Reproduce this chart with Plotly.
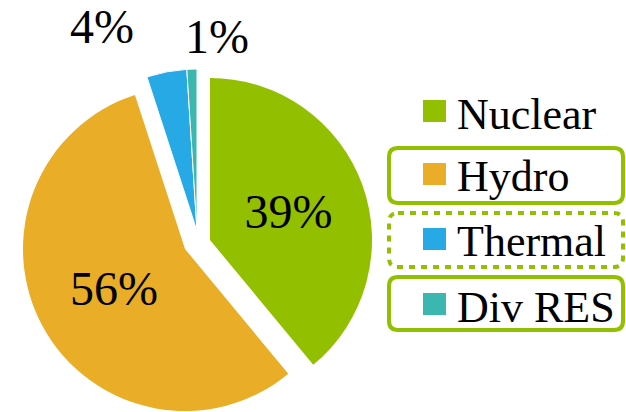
import plotly.graph_objects as go

# --- data -------------------------------------------------------------
categories = ["Nuclear", "Hydro", "Thermal", "Div RES"]
shares = [39, 56, 4, 1]
colors = ["#92BF00", "#E9AD27", "#27A9E6", "#3CB7B0"]

# --- layout helpers (pixel geometry of the 626x412 canvas) -------------
W, H = 626, 412
R = 162
FONT = "Liberation Serif, Times New Roman, serif"
FRAME = "#92BF00"
CLEAR = "rgba(0,0,0,0)"

# exploded pie: each group of slices is drawn around its own centre
groups = [
    {"members": [0], "centre": (210, 240), "inside": True},
    {"members": [1], "centre": (185, 249), "inside": True},
    {"members": [2, 3], "centre": (197, 231), "inside": False},
]
# outside percentage labels (centre of text, px)
outside_label_pos = {2: (102, 27), 3: (217, 37)}


def px_x(x):
    return x / W


def px_y(y):
    return 1 - y / H


total = sum(shares)
fig = go.Figure()

for g in groups:
    cx, cy = g["centre"]
    members = g["members"]
    slice_colors = [colors[i] if i in members else CLEAR for i in range(len(shares))]
    line_w = [1 if (i in members and len(members) > 1) else 0 for i in range(len(shares))]
    templates = [
        "%{percent:.0%}" if (i in members and g["inside"]) else ""
        for i in range(len(shares))
    ]
    fig.add_trace(go.Pie(
        labels=categories,
        values=shares,
        sort=False,
        direction="clockwise",
        rotation=0,
        marker=dict(colors=slice_colors, line=dict(color="white", width=line_w)),
        texttemplate=templates,
        textposition="inside",
        insidetextorientation="horizontal",
        insidetextfont=dict(family=FONT, size=48, color="black"),
        domain=dict(
            x=[px_x(cx - R), px_x(cx + R)],
            y=[px_y(cy + R), px_y(cy - R)],
        ),
        showlegend=False,
        hoverinfo="label+percent",
    ))

annotations = []
for i, (lx, ly) in outside_label_pos.items():
    annotations.append(dict(
        x=px_x(lx), y=px_y(ly), xref="paper", yref="paper",
        text=f"{shares[i] / total * 100:.0f}%",
        showarrow=False, xanchor="center", yanchor="middle",
        font=dict(family=FONT, size=48, color="black"),
    ))

# --- hand-built legend with framed entries ------------------------------
legend_rows = [111, 174, 239, 304]        # centre of each marker square (px)
legend_frames = [None, "solid", "6px,6px", "solid"]
frame_boxes = [None, (148, 203), (213, 267), (277, 330)]
shapes = []
for i, name in enumerate(categories):
    yc = legend_rows[i]
    shapes.append(dict(
        type="rect", xref="paper", yref="paper",
        x0=px_x(423), x1=px_x(446), y0=px_y(yc + 11), y1=px_y(yc - 11),
        fillcolor=colors[i], line=dict(width=0),
    ))
    annotations.append(dict(
        x=px_x(455), y=px_y(yc + 3), xref="paper", yref="paper",
        text=name, showarrow=False, xanchor="left", yanchor="middle",
        font=dict(family=FONT, size=44, color="black"),
    ))
    if legend_frames[i]:
        top, bot = frame_boxes[i]
        x0, x1, rr = 389, 623, 9
        path = (
            f"M {px_x(x0 + rr)},{px_y(top)} L {px_x(x1 - rr)},{px_y(top)} "
            f"Q {px_x(x1)},{px_y(top)} {px_x(x1)},{px_y(top + rr)} "
            f"L {px_x(x1)},{px_y(bot - rr)} "
            f"Q {px_x(x1)},{px_y(bot)} {px_x(x1 - rr)},{px_y(bot)} "
            f"L {px_x(x0 + rr)},{px_y(bot)} "
            f"Q {px_x(x0)},{px_y(bot)} {px_x(x0)},{px_y(bot - rr)} "
            f"L {px_x(x0)},{px_y(top + rr)} "
            f"Q {px_x(x0)},{px_y(top)} {px_x(x0 + rr)},{px_y(top)} Z"
        )
        shapes.append(dict(
            type="path", xref="paper", yref="paper", path=path,
            line=dict(color=FRAME, width=4, dash=legend_frames[i]),
            fillcolor=CLEAR,
        ))

fig.update_layout(
    width=W, height=H,
    margin=dict(l=0, r=0, t=0, b=0),
    paper_bgcolor="white", plot_bgcolor="white",
    annotations=annotations, shapes=shapes,
    showlegend=False,
)

fig.write_html("out.html")
